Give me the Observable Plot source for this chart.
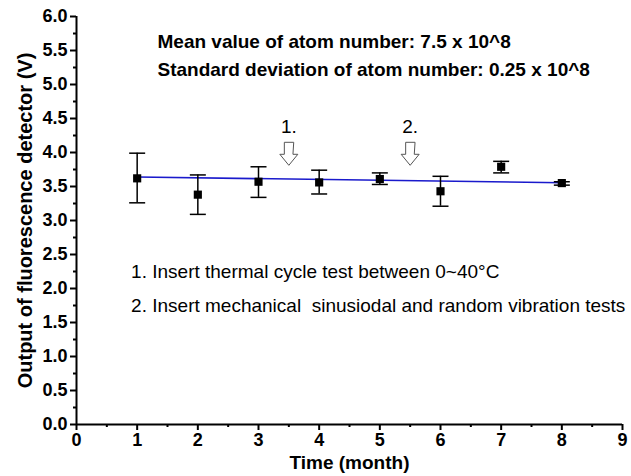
<!DOCTYPE html>
<html>
<head>
<meta charset="utf-8">
<script src="https://cdn.jsdelivr.net/npm/d3@7"></script>
<script src="https://cdn.jsdelivr.net/npm/@observablehq/plot@0.6"></script>
<style>
  html, body { margin: 0; padding: 0; background: #fff; }
  #chart svg { display: block; }
</style>
</head>
<body>
<div id="chart"></div>
<script>
// Data
const months = [1, 2, 3, 4, 5, 6, 7, 8];
const outputV = [3.62, 3.38, 3.57, 3.56, 3.61, 3.43, 3.79, 3.55];
const errLow  = [3.26, 3.09, 3.34, 3.39, 3.53, 3.21, 3.70, 3.52];
const errHigh = [3.99, 3.67, 3.79, 3.74, 3.70, 3.65, 3.87, 3.57];

// Linear fit line endpoints (as drawn in the reference)
const fitX = [1, 8];
const fitY = [3.64, 3.555];

// Event markers (arrows)
const eventX = [3.5, 5.5];
const eventLabels = ["1.", "2."];

const xTicks = [0, 1, 2, 3, 4, 5, 6, 7, 8, 9];
const xMinorTicks = [0.5, 1.5, 2.5, 3.5, 4.5, 5.5, 6.5, 7.5, 8.5];
const yTicks = [0, 0.5, 1, 1.5, 2, 2.5, 3, 3.5, 4, 4.5, 5, 5.5, 6];
const yMinorTicks = [0.25, 0.75, 1.25, 1.75, 2.25, 2.75, 3.25, 3.75, 4.25, 4.75, 5.25, 5.75];

const xLabel = "Time (month)";
const yLabel = "Output of fluorescence detector (V)";

const statsLines = [
  "Mean value of atom number: 7.5 x 10^8",
  "Standard deviation of atom number: 0.25 x 10^8"
];
const noteLines = [
  "1. Insert thermal cycle test between 0~40°C",
  "2. Insert mechanical  sinusiodal and random vibration tests"
];

const points = months.map((m, i) => ({x: m, y: outputV[i], lo: errLow[i], hi: errHigh[i]}));
const fit = fitX.map((x, i) => ({x, y: fitY[i]}));
const events = eventX.map((x, i) => ({x, label: eventLabels[i]}));
const stats = statsLines.map((t, i) => ({t, y: [5.62, 5.21][i]}));
const notes = noteLines.map((t, i) => ({t, y: [2.25, 1.75][i]}));

const capSymbol = {
  draw(context) {
    context.moveTo(-8, 0);
    context.lineTo(8, 0);
  }
};

const hollowArrow = {
  draw(context, l) {
    const sw = 4.5, hw = 9, hl = 11;
    context.moveTo(-sw, 0);
    context.lineTo(sw, 0);
    context.lineTo(sw, -(l - hl));
    context.lineTo(hw, -(l - hl));
    context.lineTo(0, -l);
    context.lineTo(-hw, -(l - hl));
    context.lineTo(-sw, -(l - hl));
    context.closePath();
  }
};

const font = "'Liberation Sans', Arial, Helvetica, sans-serif";

const chart = Plot.plot({
  width: 631,
  height: 476,
  marginLeft: 76,
  marginRight: 9,
  marginTop: 16,
  marginBottom: 52,
  style: {fontFamily: font, fontSize: "18px", fontWeight: "bold", color: "#000", background: "#fff"},
  x: {domain: [0, 9]},
  y: {domain: [0, 6]},
  marks: [
    // Minor ticks
    Plot.axisX(xMinorTicks, {tickSize: 3, strokeWidth: 2, tickFormat: () => "", label: null}),
    Plot.axisY(yMinorTicks, {tickSize: 3, strokeWidth: 2, tickFormat: () => "", label: null}),
    // Major ticks with labels
    Plot.axisX(xTicks, {
      tickSize: 6, strokeWidth: 2, tickPadding: 3,
      tickFormat: d3.format("d"),
      fontWeight: "bold", fontSize: 18,
      label: null
    }),
    Plot.axisY(yTicks, {
      tickSize: 6, strokeWidth: 2, tickPadding: 3,
      tickFormat: d3.format(".1f"),
      fontWeight: "bold", fontSize: 18,
      label: null
    }),
    // Axis titles
    Plot.text([xLabel], {frameAnchor: "bottom", textAnchor: "middle", lineAnchor: "middle", dy: 38, fontSize: 19, fontWeight: "bold", fill: "#000"}),
    Plot.text([yLabel], {frameAnchor: "left", textAnchor: "middle", lineAnchor: "middle", rotate: -90, dx: -51, fontSize: 20, fontWeight: "bold", fill: "#000"}),
    Plot.ruleY([0], {strokeWidth: 2}),
    Plot.ruleX([0], {strokeWidth: 2}),
    // Fit line
    Plot.line(fit, {x: "x", y: "y", stroke: "#1a1acc", strokeWidth: 1.6}),
    // Error bars
    Plot.ruleX(points, {x: "x", y1: "lo", y2: "hi", stroke: "#000", strokeWidth: 1.5}),
    Plot.dot(points, {x: "x", y: "lo", symbol: capSymbol, stroke: "#000", strokeWidth: 1.5, r: 4}),
    Plot.dot(points, {x: "x", y: "hi", symbol: capSymbol, stroke: "#000", strokeWidth: 1.5, r: 4}),
    // Markers
    Plot.dot(points, {x: "x", y: "y", symbol: "square", r: 4.6, fill: "#000", stroke: "none"}),
    // Event arrows
    Plot.vector(events, {x: "x", y: 4.15, length: 23, rotate: 180, anchor: "start", shape: hollowArrow, fill: "#fff", stroke: "#555", strokeWidth: 1}),
    Plot.text(events, {x: "x", y: 4.37, text: "label", fontSize: 19, fontWeight: "normal", fill: "#000"}),
    // Stats text
    Plot.text(stats, {x: 1.335, y: "y", text: "t", textAnchor: "start", fontSize: 19, fontWeight: "bold", fill: "#000"}),
    // Notes
    Plot.text(notes, {x: 0.9, y: "y", text: "t", textAnchor: "start", fontSize: 19, fontWeight: "normal", fill: "#000"})
  ]
});

document.getElementById("chart").appendChild(chart);
</script>
</body>
</html>
